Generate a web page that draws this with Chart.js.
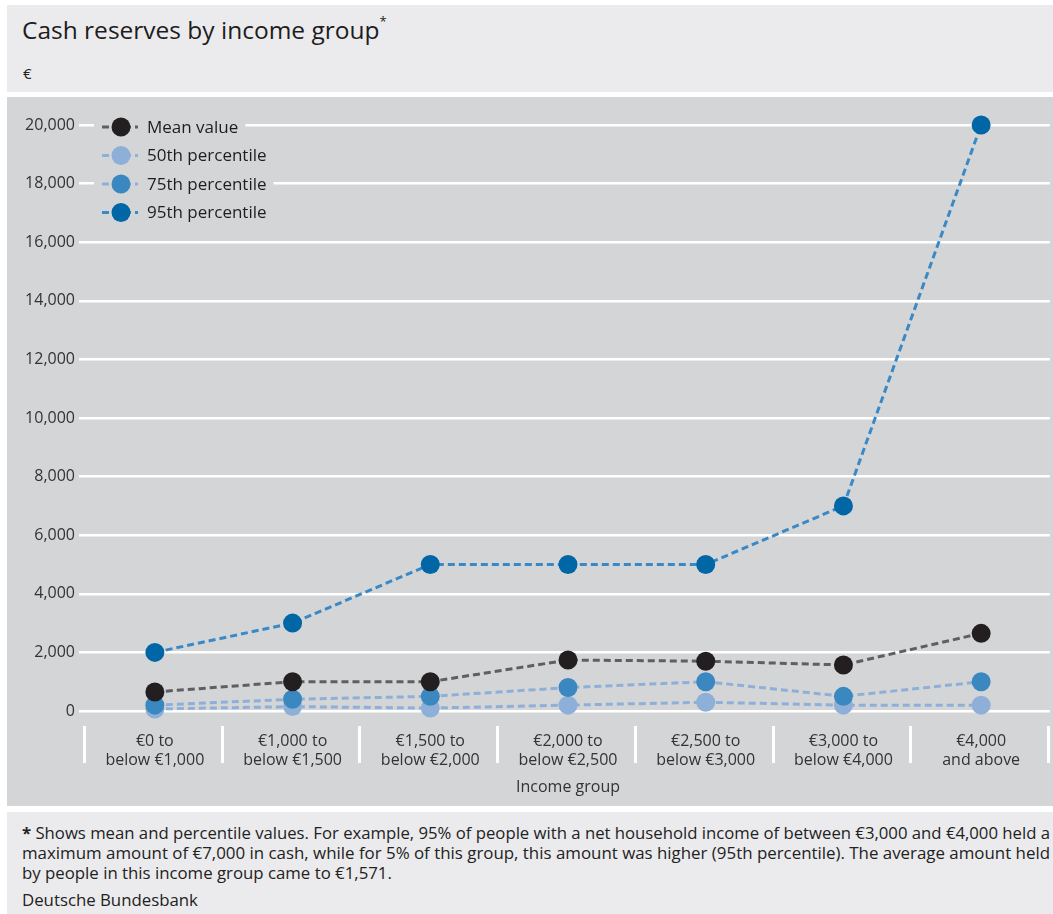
<!DOCTYPE html>
<html>
<head>
<meta charset="utf-8">
<script src="https://cdn.jsdelivr.net/npm/chart.js@4"></script>
<style>
  body { margin: 0; background: #fff; width: 1053px; height: 914px; position: relative; overflow: hidden;
         font-family: 'Open Sans', 'Noto Sans', sans-serif; color: #222; }
  .kopf { position: absolute; left: 7px; top: 5px; width: 1046px; height: 87px; background: #ebebed; }
  .kopf h1 { position: absolute; left: 15px; top: 8px; margin: 0; font-size: 24.5px; font-weight: 400; color: #1d1d1d; }
  .kopf h1 sup { font-size: 13px; position: relative; top: -4px; }
  .kopf .einheit { position: absolute; left: 16px; top: 58px; font-size: 15px; }
  .panel { position: absolute; left: 7px; top: 97px; width: 1046px; height: 709px; background: #d4d5d7; }
  .fuss { position: absolute; left: 7px; top: 812px; width: 1046px; height: 102px; background: #ebebed;
          font-size: 16px; color: #222; }
  .fuss div { position: absolute; left: 15px; white-space: nowrap; line-height: 20px; transform-origin: 0 50%; }
</style>
</head>
<body>
<div class="kopf">
  <h1>Cash reserves by income group<sup>*</sup></h1>
  <div class="einheit">€</div>
</div>
<div class="panel"><canvas id="chartBargeld" width="1046" height="709"></canvas></div>
<div class="fuss">
  <div class="zeile" style="top:11px"><b>*</b> Shows mean and percentile values. For example, 95% of people with a net household income of between €3,000 and €4,000 held a</div>
  <div class="zeile" style="top:31px">maximum amount of €7,000 in cash, while for 5% of this group, this amount was higher (95th percentile). The average amount held</div>
  <div class="rest" style="top:51px">by people in this income group came to €1,571.</div>
  <div class="rest" style="top:78px">Deutsche Bundesbank</div>
</div>
<script>
/* Bargeldreserven nach Einkommensgruppe */
const gruppen = [
  ['€0 to', 'below €1,000'],
  ['€1,000 to', 'below €1,500'],
  ['€1,500 to', 'below €2,000'],
  ['€2,000 to', 'below €2,500'],
  ['€2,500 to', 'below €3,000'],
  ['€3,000 to', 'below €4,000'],
  ['€4,000', 'and above'],
];
const mittelwert = [650, 1000, 1000, 1740, 1700, 1571, 2650];
const p50 = [70, 150, 100, 200, 300, 200, 200];
const p75 = [200, 400, 500, 800, 1000, 500, 1000];
const p95 = [2000, 3000, 5000, 5000, 5000, 7000, 20000];
const yTicks = [0, 2000, 4000, 6000, 8000, 10000, 12000, 14000, 16000, 18000, 20000];

const FLAECHE = '#d4d5d7';
const SCHRIFT = "'Open Sans', 'Noto Sans', sans-serif";

// Fußnote schmal setzen (Originalschrift ist eine Condensed)
(function () {
  const zeilen = document.querySelectorAll('.fuss .zeile');
  let summe = 0;
  zeilen.forEach((z) => {
    const f = 1028 / z.getBoundingClientRect().width;
    summe += f;
    z.style.transform = `scaleX(${f})`;
  });
  const mittel = summe / zeilen.length;
  document.querySelectorAll('.fuss .rest').forEach((z) => { z.style.transform = `scaleX(${mittel})`; });
}());

function serie(label, data, linie, punkt, order) {
  return {
    label, data, order,
    borderColor: linie, borderWidth: 3, borderDash: [7, 4],
    pointRadius: 9.5, pointHoverRadius: 9.5,
    pointBackgroundColor: punkt, pointBorderWidth: 0,
    tension: 0, clip: false,
  };
}

const datasets = [
  serie('Mean value', mittelwert, '#5f5f61', '#231f20', 0),
  serie('50th percentile', p50, '#8eb0d8', '#8eb0d8', 2),
  serie('75th percentile', p75, '#8eb0d8', '#3a88bf', 1),
  serie('95th percentile', p95, '#3a89c6', '#0066a6', 3),
];

// Legende mit gestrichelter Linie + Punkt, eigener Hintergrund
const legende = {
  id: 'legende',
  afterDatasetsDraw(chart) {
    const ctx = chart.ctx;
    ctx.save();
    ctx.font = '17px ' + SCHRIFT;
    ctx.textBaseline = 'middle';
    const x0 = 95, y0 = 30, schritt = 28.5;
    datasets.forEach((ds, i) => {
      const y = y0 + i * schritt;
      const w = ctx.measureText(ds.label).width;
      ctx.fillStyle = FLAECHE;
      ctx.fillRect(x0 - 8, y - 12, 60 + w, 24);
      ctx.strokeStyle = ds.borderColor;
      ctx.lineWidth = 3;
      ctx.setLineDash([7, 4]);
      ctx.beginPath();
      ctx.moveTo(x0, y); ctx.lineTo(x0 + 36, y);
      ctx.stroke();
      ctx.setLineDash([]);
      ctx.fillStyle = ds.pointBackgroundColor;
      ctx.beginPath();
      ctx.arc(x0 + 19, y, 9.5, 0, Math.PI * 2);
      ctx.fill();
      ctx.fillStyle = '#1e1e1e';
      ctx.fillText(ds.label, x0 + 45, y + 1);
    });
    ctx.restore();
  },
};

// weiße Trennstriche unter der x-Achse
const trenner = {
  id: 'trenner',
  beforeDatasetsDraw(chart) {
    const { ctx, scales: { x }, chartArea } = chart;
    const halb = (x.getPixelForValue(1) - x.getPixelForValue(0)) / 2;
    ctx.save();
    ctx.strokeStyle = '#fff';
    ctx.lineWidth = 3;
    for (let i = 0; i <= gruppen.length; i++) {
      const px = Math.round(x.getPixelForValue(0) - halb + i * halb * 2) - 1.5;
      ctx.beginPath();
      ctx.moveTo(px, chartArea.bottom + 15);
      ctx.lineTo(px, chartArea.bottom + 52);
      ctx.stroke();
    }
    ctx.restore();
  },
};

Chart.defaults.font.family = SCHRIFT;
Chart.defaults.color = '#333';

new Chart(document.getElementById('chartBargeld'), {
  type: 'line',
  data: { labels: gruppen, datasets },
  options: {
    responsive: false,
    animation: false,
    layout: { autoPadding: false, padding: { top: 28, right: 3, left: 0, bottom: 5 } },
    plugins: { legend: { display: false }, tooltip: { enabled: false } },
    scales: {
      x: {
        offset: true,
        grid: { display: false },
        border: { display: false },
        ticks: { font: { size: 16 }, color: '#333', padding: 13, maxRotation: 0, autoSkip: false },
        title: { display: true, text: 'Income group', font: { size: 16 }, color: '#333', padding: { top: 0 } },
        afterFit(s) { s.height = 90; s.paddingLeft = 0; s.paddingRight = 0; },
      },
      y: {
        min: 0, max: 20000,
        afterBuildTicks(s) { s.ticks = yTicks.map((v) => ({ value: v })); },
        grid: { color: '#fff', lineWidth: 2.5, drawTicks: true, tickLength: 7, tickColor: '#fff' },
        border: { display: false },
        ticks: {
          font: { size: 16 }, color: '#333', padding: 4,
          callback: (v) => v.toLocaleString('en-US'),
        },
        afterFit(s) { s.width = 79; },
      },
    },
  },
  plugins: [trenner, legende],
});
</script>
</body>
</html>
